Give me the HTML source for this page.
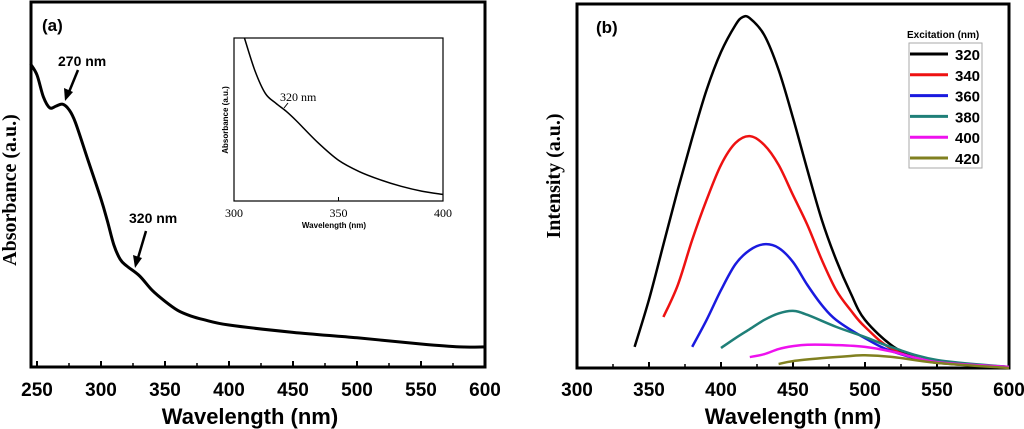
<!DOCTYPE html>
<html><head><meta charset="utf-8"><style>
body{margin:0;background:#fff;}
svg{display:block;font-family:"Liberation Sans",Arial,sans-serif;}
</style></head><body>
<svg id="c" width="1024" height="429" viewBox="0 0 1024 429" xmlns="http://www.w3.org/2000/svg"></svg>
<script>
// Panel (a) absorbance data
const absX = [245,250,255,260,265,270,275,280,290,300,305,310,315,320,330,340,350,360,370,380,400,450,500,550,580,600];
const absY = [0.83,0.80,0.74,0.71,0.715,0.72,0.705,0.67,0.565,0.46,0.40,0.335,0.295,0.277,0.25,0.21,0.18,0.155,0.14,0.13,0.115,0.095,0.08,0.063,0.055,0.055];
const insetX = [305,310,315,320,325,330,340,350,360,370,380,390,400];
const insetY = [1.0,0.80,0.66,0.60,0.55,0.49,0.36,0.25,0.18,0.13,0.09,0.06,0.04];
const aTicks = [250,300,350,400,450,500,550,600];
const insetTicks = [300,350,400];
// Panel (b) PL spectra
const plLabels = ['320','340','360','380','400','420'];
const plColors = ['#000000','#ee1111','#1a1adf','#1f7f78','#ee11ee','#808020'];
const plX = [
 [340,350,360,370,380,390,400,410,415,420,430,440,450,460,470,480,490,500,520,540,560,600],
 [360,370,380,390,400,410,420,430,440,450,460,470,480,490,500,520,550,600],
 [380,390,400,410,420,430,440,450,460,470,480,500,520,550,600],
 [400,410,420,430,440,450,460,480,500,520,550,600],
 [420,430,440,450,460,480,500,520,550,600],
 [440,450,470,490,500,520,550,600]];
const plY = [
 [0.058,0.188,0.339,0.490,0.632,0.764,0.868,0.942,0.964,0.961,0.915,0.819,0.687,0.544,0.407,0.297,0.206,0.132,0.058,0.022,0.011,0.003],
 [0.140,0.228,0.352,0.462,0.558,0.618,0.637,0.613,0.558,0.475,0.393,0.297,0.214,0.159,0.113,0.049,0.016,0.003],
 [0.058,0.132,0.214,0.285,0.324,0.340,0.330,0.291,0.228,0.173,0.132,0.082,0.044,0.016,0.003],
 [0.055,0.082,0.107,0.132,0.150,0.157,0.146,0.113,0.085,0.055,0.022,0.003],
 [0.030,0.038,0.052,0.060,0.064,0.063,0.058,0.044,0.016,0.003],
 [0.011,0.019,0.027,0.033,0.035,0.030,0.014,0.0]];
const bTicks = [300,350,400,450,500,550,600];

const NS='http://www.w3.org/2000/svg', svg=document.getElementById('c');
function el(t,a,p){const e=document.createElementNS(NS,t);for(const k in a)e.setAttribute(k,a[k]);(p||svg).appendChild(e);return e;}
function txt(s,a,p){const e=el('text',a,p);e.textContent=s;return e;}
function smooth(pts){let d='M'+pts[0][0]+','+pts[0][1];for(let i=0;i<pts.length-1;i++){const p0=pts[Math.max(i-1,0)],p1=pts[i],p2=pts[i+1],p3=pts[Math.min(i+2,pts.length-1)];
 d+=' C'+(p1[0]+(p2[0]-p0[0])/6)+','+(p1[1]+(p2[1]-p0[1])/6)+' '+(p2[0]-(p3[0]-p1[0])/6)+','+(p2[1]-(p3[1]-p1[1])/6)+' '+p2[0]+','+p2[1];}return d;}

// ---- Panel a
const ax=v=>37+(v-250)*448/350, ay=v=>367-v*365;
el('rect',{x:31,y:2,width:454,height:365,fill:'none',stroke:'#000','stroke-width':3,});
aTicks.forEach(t=>{const g=el('g',{});
 
 
 el('line',{x1:ax(t),x2:ax(t),y1:367,y2:361,stroke:'#000','stroke-width':2},g);
 txt(t,{x:ax(t),y:396,'text-anchor':'middle','font-size':19,'font-weight':'bold'},g);});
for(let t=275;t<600;t+=50){el('line',{x1:ax(t),x2:ax(t),y1:367,y2:363,stroke:'#000','stroke-width':1.5});}
const pa=el('path',{d:smooth(absX.map((x,i)=>[ax(x),ay(absY[i])])),fill:'none',stroke:'#000','stroke-width':3});

txt('Wavelength (nm)',{x:250,y:424,'text-anchor':'middle','font-size':22,'font-weight':'bold',});
txt('Absorbance (a.u.)',{x:0,y:0,transform:'translate(16,190) rotate(-90)','text-anchor':'middle','font-size':20,'font-weight':'bold','font-family':'Liberation Serif,serif',});
txt('(a)',{x:42,y:31,'font-size':17,'font-weight':'bold',});
txt('270 nm',{x:58,y:66,'font-size':14,'font-weight':'bold',});
el('line',{x1:78,y1:70,x2:69,y2:92,stroke:'#000','stroke-width':2.5});
el('path',{d:'M65,101 L64,88 L73,92 Z',fill:'#000'});
txt('320 nm',{x:129,y:223,'font-size':14,'font-weight':'bold',});
el('line',{x1:146,y1:231,x2:138,y2:258,stroke:'#000','stroke-width':2.5});
el('path',{d:'M135,268 L133,255 L142,258 Z',fill:'#000'});
// inset
const ix=v=>234+(v-300)*209/100, iy=v=>201-v*163;
const ins=el('g',{});
el('rect',{x:234,y:38,width:209,height:163,fill:'#fff',stroke:'#000','stroke-width':1.2},ins);
insetTicks.forEach(t=>{const e=txt(t,{x:ix(t),y:217,'text-anchor':'middle','font-size':12,'font-family':'Liberation Serif,serif'},ins);
 
 
 el('line',{x1:ix(t),x2:ix(t),y1:201,y2:197,stroke:'#000'},ins);});
const pi=el('path',{d:smooth(insetX.map((x,i)=>[ix(x),iy(insetY[i])])),fill:'none',stroke:'#000','stroke-width':1.5},ins);

txt('Wavelength (nm)',{x:334,y:228,'text-anchor':'middle','font-size':8,'font-weight':'bold'},ins);
txt('Absorbance (a.u.)',{x:0,y:0,transform:'translate(228,120) rotate(-90)','text-anchor':'middle','font-size':8,'font-weight':'bold'},ins);
txt('320 nm',{x:280,y:101,'font-size':12,'font-family':'Liberation Serif,serif'},ins);
el('line',{x1:288,y1:103,x2:284,y2:108,stroke:'#000'},ins);

// ---- Panel b
const bx=v=>577+(v-300)*432/300, by=v=>368-v*364;
el('rect',{x:577,y:4,width:432,height:364,fill:'none',stroke:'#000','stroke-width':3,});
bTicks.forEach(t=>{const g=el('g',{});
 
 
 el('line',{x1:bx(t),x2:bx(t),y1:368,y2:362,stroke:'#000','stroke-width':2},g);
 txt(t,{x:bx(t),y:396,'text-anchor':'middle','font-size':19,'font-weight':'bold'},g);});
for(let t=325;t<600;t+=50){el('line',{x1:bx(t),x2:bx(t),y1:368,y2:364,stroke:'#000','stroke-width':1.5});}
plY.forEach((ys,s)=>{const p=el('path',{d:smooth(plX[s].map((x,i)=>[bx(x),by(ys[i])])),fill:'none',stroke:plColors[s],'stroke-width':2.5});
 
 });
txt('Wavelength (nm)',{x:793,y:424,'text-anchor':'middle','font-size':22,'font-weight':'bold',});
txt('Intensity (a.u.)',{x:0,y:0,transform:'translate(560,176) rotate(-90)','text-anchor':'middle','font-size':20,'font-weight':'bold','font-family':'Liberation Serif,serif',});
txt('(b)',{x:596,y:33,'font-size':17,'font-weight':'bold',});
// legend
const lg=el('g',{});
txt('Excitation (nm)',{x:907,y:38,'font-size':10,'font-weight':'bold'},lg);
el('rect',{x:909,y:43,width:73,height:125,fill:'#fff',stroke:'#aaa','stroke-width':1},lg);
plLabels.forEach((l,i)=>{const y=54+i*20.8;const g=el('g',{},lg);
 
 
 el('line',{x1:910,x2:948,y1:y,y2:y,stroke:plColors[i],'stroke-width':3},g);
 txt(l,{x:955,y:y+6,'font-size':15,'font-weight':'bold'},g);});
</script>
</body></html>
